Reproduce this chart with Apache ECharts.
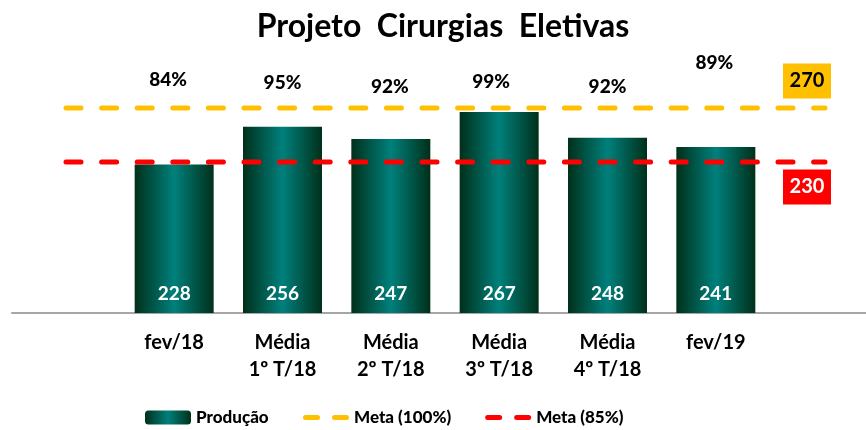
<!DOCTYPE html>
<html>
<head>
<meta charset="utf-8">
<script src="https://cdn.jsdelivr.net/npm/echarts@6/dist/echarts.min.js"></script>
<style>
  html, body { margin: 0; padding: 0; background: #fff; }
  #chart { width: 866px; height: 430px; }
</style>
</head>
<body>
<div id="chart"></div>
<script>
// dados
const categorias = ['fev/18', 'Média\n1º T/18', 'Média\n2º T/18', 'Média\n3º T/18', 'Média\n4º T/18', 'fev/19']
const producao = [228, 256, 247, 267, 248, 241]
const percentuais = ['84%', '95%', '92%', '99%', '92%', '89%']
const meta100 = 270
const meta85 = 230

// ajuste fino de posição dos rótulos de % (px)
const pctShift = [[-6, -1], [0, 1.5], [-1, 6], [-8, 1], [0, 6], [-1.5, -18.5]]
const pctLevel = 290

const font = 'Lato'
const yMin = 118, yMax = 310
const gridTop = 54, gridBottom = 117

// ícone da legenda: dois traços arredondados
const dashIcon = 'path://M2.5,0 H14.5 A2.5,2.5 0 0 1 14.5,5 H2.5 A2.5,2.5 0 0 1 2.5,0 Z ' +
  'M31.5,0 H43.5 A2.5,2.5 0 0 1 43.5,5 H31.5 A2.5,2.5 0 0 1 31.5,0 Z'

const chart = echarts.init(document.getElementById('chart'), null, { renderer: 'canvas' })

const barColor = new echarts.graphic.LinearGradient(0, 0, 1, 0, [
  { offset: 0, color: '#00301a' },
  { offset: 0.5, color: '#00807c' },
  { offset: 1, color: '#00301a' }
])

const hiddenY = (gi) => ({
  type: 'value', gridIndex: gi, min: yMin, max: yMax, show: false
})

const legendText = { fontFamily: font, fontWeight: 900, fontSize: 17, color: '#000' }

const metaLine = (name, value, color, tagText, tagOffset) => ({
  name: name,
  type: 'line',
  xAxisIndex: 1,
  yAxisIndex: 1,
  data: [value, value],
  symbol: 'none',
  silent: true,
  lineStyle: { color: color, width: 5, type: [15, 20.6], cap: 'round' },
  itemStyle: { color: color },
  markPoint: {
    symbol: 'rect',
    symbolSize: 0,
    data: [{ coord: [1, value] }],
    label: {
      show: true,
      position: 'inside',
      offset: tagOffset,
      formatter: String(value),
      width: 48,
      height: 35,
      lineHeight: 35,
      align: 'center',
      backgroundColor: color,
      color: tagText,
      fontFamily: font,
      fontWeight: 'bold',
      fontSize: 20
    }
  }
})

const option = {
  animation: false,
  backgroundColor: '#ffffff',
  title: {
    text: 'Projeto  Cirurgias  Eletivas',
    left: 438,
    textAlign: 'center',
    top: 6,
    textStyle: { fontFamily: font, fontWeight: 'bold', fontSize: 32, color: '#000' }
  },
  legend: [
    {
      left: 145,
      top: 409,
      padding: 0,
      itemWidth: 46,
      itemHeight: 14,
      textStyle: legendText,
      data: ['Produção']
    },
    {
      left: 303,
      top: 409,
      padding: 0,
      itemWidth: 46,
      itemHeight: 5,
      itemGap: 34,
      icon: dashIcon,
      textStyle: legendText,
      data: ['Meta (100%)', 'Meta (85%)']
    }
  ],
  grid: [
    { left: 120, right: 96, top: gridTop, bottom: gridBottom },
    { left: 66, right: 41, top: gridTop, bottom: gridBottom },
    { left: 12, right: 0, top: gridTop, bottom: gridBottom }
  ],
  xAxis: [
    {
      type: 'category', gridIndex: 0, data: categorias,
      axisLine: { show: false }, axisTick: { show: false },
      axisLabel: {
        margin: 16, fontFamily: font, fontWeight: 'bold', fontSize: 20,
        lineHeight: 27, color: '#000', interval: 0
      }
    },
    { type: 'category', gridIndex: 1, data: ['', ''], boundaryGap: false, show: false },
    {
      type: 'value', gridIndex: 2, min: 0, max: 1,
      axisLine: { show: true, onZero: false, lineStyle: { color: '#a6a6a6', width: 2 } },
      axisTick: { show: false }, axisLabel: { show: false }, splitLine: { show: false }
    }
  ],
  yAxis: [hiddenY(0), hiddenY(1), hiddenY(2)],
  series: [
    {
      name: 'Produção',
      type: 'bar',
      data: producao,
      barWidth: 79,
      itemStyle: { color: barColor },
      label: {
        show: true,
        position: 'insideBottom',
        distance: 10,
        color: '#fff',
        fontFamily: font,
        fontWeight: 'bold',
        fontSize: 19
      },
      // percentuais acima das barras
      markPoint: {
        symbol: 'rect',
        symbolSize: 0,
        silent: true,
        label: {
          show: true,
          position: 'inside',
          fontFamily: font,
          fontWeight: 900,
          fontSize: 19,
          color: '#000',
          formatter: (p) => p.name
        },
        data: percentuais.map((p, i) => ({
          name: p,
          coord: [i, pctLevel],
          label: { offset: pctShift[i] }
        }))
      }
    },
    metaLine('Meta (100%)', meta100, '#ffc000', '#000', [-18, -27]),
    metaLine('Meta (85%)', meta85, '#ff0000', '#fff', [-18, 25])
  ]
}

chart.setOption(option)
</script>
</body>
</html>
